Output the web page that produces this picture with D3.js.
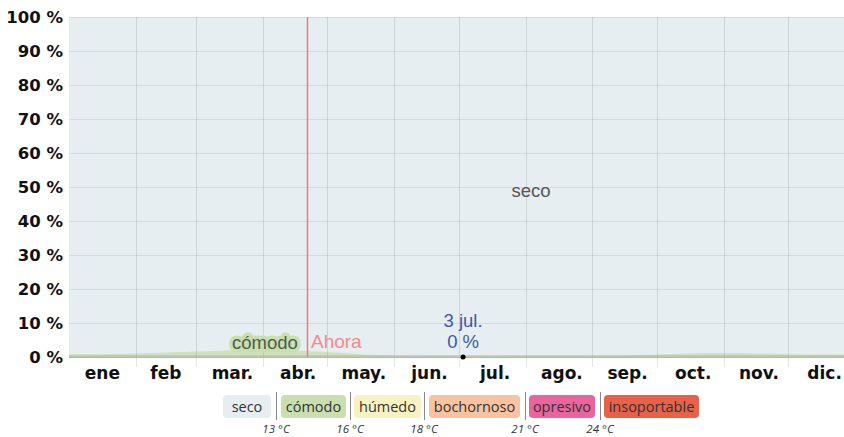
<!DOCTYPE html>
<html>
<head>
<meta charset="utf-8">
<script src="https://cdn.jsdelivr.net/npm/d3@7"></script>
<style>
  body { margin: 0; background: #fff; }
  svg { display: block; }
</style>
</head>
<body>
<div id="chart"></div>
<script>
// meses (etiquetas y días de inicio)
var months = ["ene", "feb", "mar.", "abr.", "may.", "jun.", "jul.", "ago.", "sep.", "oct.", "nov.", "dic."];
var monthStart = [0, 31, 59, 90, 120, 151, 181, 212, 243, 273, 304, 334, 365];
var yTicks = [0, 10, 20, 30, 40, 50, 60, 70, 80, 90, 100];

// porcentaje de tiempo "cómodo" a lo largo del año (día del año, %)
var days   = [0,   15,  31,  45,  59,  74,  90,  105, 120, 135, 151, 166, 181, 212, 243, 258, 273, 288, 304, 319, 334, 349, 365];
var comodo = [0.5, 0.5, 0.7, 1.0, 1.3, 1.6, 1.8, 1.7, 1.2, 0.5, 0.1, 0,   0,   0,   0,   0.1, 0.4, 0.8, 0.9, 0.8, 0.5, 0.4, 0.5];

// leyenda
var legendNames = ["seco", "cómodo", "húmedo", "bochornoso", "opresivo", "insoportable"];
var legendColors = ["#e6eef2", "#c9dfb0", "#f7f2c2", "#f8c3a2", "#e8659f", "#e8614a"];
var legendTemps = ["13 °C", "16 °C", "18 °C", "21 °C", "24 °C"];

var nowDay = 110.5;
var markDay = 183, markVal = 0;

var width = 844, height = 437;
var svg = d3.select("#chart").append("svg")
  .attr("width", width)
  .attr("height", height);

var x = d3.scaleLinear().domain([0, 365]).range([69, 855]);
var y = d3.scaleLinear().domain([0, 100]).range([357, 17]);

svg.append("clipPath").attr("id", "clip")
  .append("rect").attr("x", 69).attr("y", 17).attr("width", width - 69).attr("height", 340);

var plot = svg.append("g").attr("clip-path", "url(#clip)");

// fondo "seco"
plot.append("rect")
  .attr("x", x(0)).attr("y", y(100))
  .attr("width", x(365) - x(0)).attr("height", y(0) - y(100))
  .attr("fill", "#e6eef2");

var pts = days.map(function(d, i) { return { day: d, v: comodo[i] }; });

// área cómodo
var area = d3.area()
  .x(function(d) { return x(d.day); })
  .y0(y(0))
  .y1(function(d) { return y(d.v) - 1; })
  .curve(d3.curveBasis);

plot.append("path").datum(pts)
  .attr("d", area)
  .attr("fill", "#cfe2bd");

// grilla
plot.selectAll(".vgrid")
  .data(monthStart.slice(1, 12))
  .enter().append("line")
  .attr("x1", function(d) { return Math.round(x(d)) + 0.5; })
  .attr("x2", function(d) { return Math.round(x(d)) + 0.5; })
  .attr("y1", y(100)).attr("y2", y(0))
  .attr("stroke", "#000").attr("stroke-opacity", 0.1).attr("stroke-width", 1);

svg.selectAll(".hgrid")
  .data(yTicks)
  .enter().append("line")
  .attr("x1", x(0)).attr("x2", width)
  .attr("y1", function(d) { return y(d) + 0.5; })
  .attr("y2", function(d) { return y(d) + 0.5; })
  .attr("stroke", "#000").attr("stroke-opacity", 0.08);

svg.selectAll(".vgrid2")
  .data(monthStart.slice(1, 12))
  .enter().append("line")
  .attr("x1", function(d) { return Math.round(x(d)) + 0.5; })
  .attr("x2", function(d) { return Math.round(x(d)) + 0.5; })
  .attr("y1", y(0)).attr("y2", y(0) + 10)
  .attr("stroke", "#000").attr("stroke-opacity", 0.1);

// línea base
svg.append("line")
  .attr("x1", x(0)).attr("x2", width)
  .attr("y1", y(0) - 1).attr("y2", y(0) - 1)
  .attr("stroke", "#a9b4b0").attr("stroke-width", 1);
svg.append("line")
  .attr("x1", x(0)).attr("x2", width)
  .attr("y1", y(0) + 0.5).attr("y2", y(0) + 0.5)
  .attr("stroke", "#f0a080").attr("stroke-width", 1);

// eje y
svg.selectAll(".ylab")
  .data(yTicks)
  .enter().append("text")
  .attr("x", 63)
  .attr("y", function(d) { return y(d); })
  .attr("dy", "0.36em")
  .attr("text-anchor", "end")
  .attr("font-family", "DejaVu Sans, sans-serif")
  .attr("font-weight", "bold")
  .attr("font-size", 16.5)
  .attr("fill", "#111")
  .text(function(d) { return d + " %"; });

// eje x
svg.selectAll(".xlab")
  .data(months)
  .enter().append("text")
  .attr("x", function(d, i) { return x((monthStart[i] + monthStart[i + 1]) / 2) + (d.slice(-1) == "." ? 3 : 0); })
  .attr("y", 379)
  .attr("text-anchor", "middle")
  .attr("font-family", "DejaVu Sans, sans-serif")
  .attr("font-weight", "bold")
  .attr("font-size", 17)
  .attr("fill", "#111")
  .text(function(d) { return d; });

// línea "Ahora"
svg.append("line")
  .attr("x1", Math.round(x(nowDay)) + 0.5).attr("x2", Math.round(x(nowDay)) + 0.5)
  .attr("y1", y(100)).attr("y2", y(0))
  .attr("stroke", "#f47777").attr("stroke-width", 1.5);

svg.append("text")
  .attr("x", x(nowDay) + 4).attr("y", 348)
  .attr("font-family", "Liberation Sans, Arial, sans-serif")
  .attr("font-size", 19)
  .attr("fill", "#f48a8c")
  .text("Ahora");

// etiqueta cómodo con halo
svg.append("text")
  .attr("x", 265).attr("y", 349)
  .attr("text-anchor", "middle")
  .attr("font-family", "Liberation Sans, Arial, sans-serif")
  .attr("font-size", 18.5)
  .attr("fill", "none")
  .attr("stroke", "#c9dfb0").attr("stroke-width", 7).attr("stroke-linejoin", "round")
  .text("cómodo");
svg.append("text")
  .attr("x", 265).attr("y", 349)
  .attr("text-anchor", "middle")
  .attr("font-family", "Liberation Sans, Arial, sans-serif")
  .attr("font-size", 18.5)
  .attr("fill", "#505a50")
  .text("cómodo");

svg.append("text")
  .attr("x", 531).attr("y", 197)
  .attr("text-anchor", "middle")
  .attr("font-family", "Liberation Sans, Arial, sans-serif")
  .attr("font-size", 18.5)
  .attr("fill", "#555")
  .text("seco");

// marcador 3 jul.
svg.append("circle")
  .attr("cx", x(markDay)).attr("cy", y(markVal))
  .attr("r", 2.5).attr("fill", "#000");
svg.append("text")
  .attr("x", x(markDay)).attr("y", 327)
  .attr("text-anchor", "middle")
  .attr("font-family", "Liberation Sans, Arial, sans-serif")
  .attr("font-size", 18.5)
  .attr("fill", "#3a5aa8")
  .text("3 jul.");
svg.append("text")
  .attr("x", x(markDay)).attr("y", 348)
  .attr("text-anchor", "middle")
  .attr("font-family", "Liberation Sans, Arial, sans-serif")
  .attr("font-size", 18.5)
  .attr("fill", "#3a5aa8")
  .text(markVal + " %");

// leyenda
var boxX = [223, 281, 354, 429, 529, 604];
var boxW = [48, 65, 67, 91, 66, 95];
var sepX = [276, 350, 424, 525, 600];

var lg = svg.append("g");
lg.selectAll("rect")
  .data(legendNames)
  .enter().append("rect")
  .attr("x", function(d, i) { return boxX[i]; })
  .attr("y", 395)
  .attr("width", function(d, i) { return boxW[i]; })
  .attr("height", 23)
  .attr("rx", 4)
  .attr("fill", function(d, i) { return legendColors[i]; });
lg.selectAll("text.name")
  .data(legendNames)
  .enter().append("text")
  .attr("x", function(d, i) { return boxX[i] + boxW[i] / 2; })
  .attr("y", 411.5)
  .attr("text-anchor", "middle")
  .attr("font-family", "Open Sans, sans-serif")
  .attr("font-size", 14.5)
  .attr("fill", "#333")
  .text(function(d) { return d; });
lg.selectAll("line")
  .data(sepX)
  .enter().append("line")
  .attr("x1", function(d) { return d + 0.5; })
  .attr("x2", function(d) { return d + 0.5; })
  .attr("y1", 392).attr("y2", 420)
  .attr("stroke", "#888").attr("stroke-width", 1);
lg.selectAll("text.temp")
  .data(legendTemps)
  .enter().append("text")
  .attr("x", function(d, i) { return sepX[i]; })
  .attr("y", 433)
  .attr("text-anchor", "middle")
  .attr("font-family", "Open Sans, sans-serif")
  .attr("font-style", "italic")
  .attr("font-size", 11.5)
  .attr("fill", "#333")
  .text(function(d) { return d; });
</script>
</body>
</html>
